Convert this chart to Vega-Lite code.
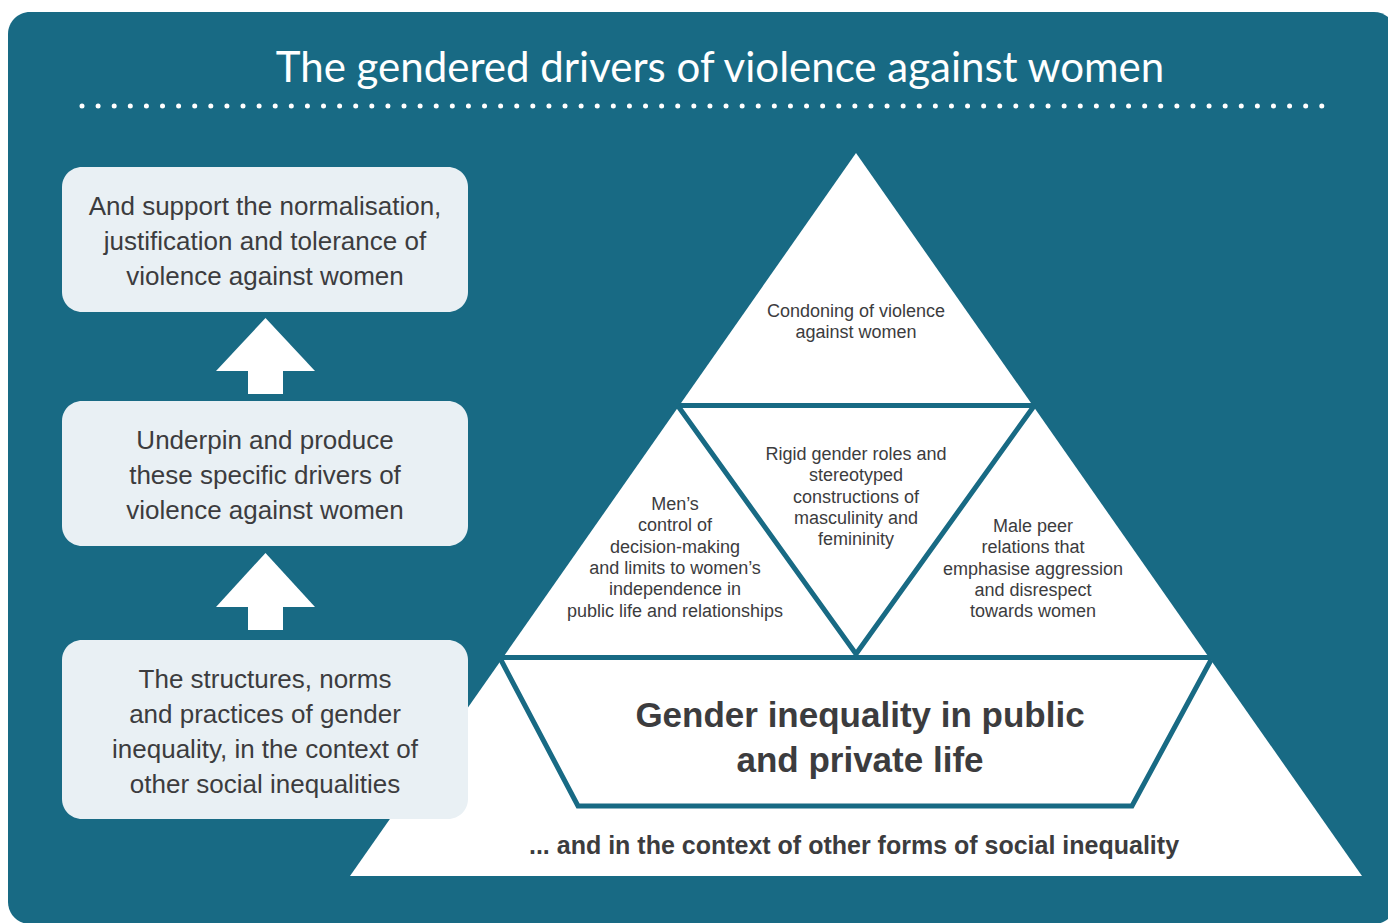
{
  "$schema": "https://vega.github.io/schema/vega-lite/v6.json",
  "width": 1388,
  "height": 923,
  "autosize": {"type": "fit", "contains": "padding"},
  "padding": 0,
  "background": "#ffffff",
  "config": {"view": {"stroke": null}},
  "datasets": {
    "panel": [{"x": 8, "x2": 1396, "y": 12, "y2": 924}],
    "divider": [{"x": 82, "x2": 1327, "y": 106}],
    "title": [{"x": 720, "y": 69, "label": "The gendered drivers of violence against women"}],
    "boxes": [
      {"x": 62, "x2": 468, "y": 167, "y2": 312},
      {"x": 62, "x2": 468, "y": 401, "y2": 546},
      {"x": 62, "x2": 468, "y": 640, "y2": 819}
    ],
    "boxText": [
      {"x": 265, "y": 207, "label": "And support the normalisation,\njustification and tolerance of\nviolence against women"},
      {"x": 265, "y": 441, "label": "Underpin and produce\nthese specific drivers of\nviolence against women"},
      {"x": 265, "y": 680, "label": "The structures, norms\nand practices of gender\ninequality, in the context of\nother social inequalities"}
    ],
    "stems": [
      {"x": 248, "x2": 283, "y": 370, "y2": 394},
      {"x": 248, "x2": 283, "y": 606, "y2": 630}
    ],
    "shapes": [
      {"shape": "pyramid", "x": 350, "y": 876, "y2": 876},
      {"shape": "pyramid", "x": 856, "y": 153, "y2": 876},
      {"shape": "pyramid", "x": 1362, "y": 876, "y2": 876},
      {"shape": "arrow1", "x": 216, "y": 371, "y2": 371},
      {"shape": "arrow1", "x": 265.5, "y": 318, "y2": 371},
      {"shape": "arrow1", "x": 315, "y": 371, "y2": 371},
      {"shape": "arrow2", "x": 216, "y": 607, "y2": 607},
      {"shape": "arrow2", "x": 265.5, "y": 553, "y2": 607},
      {"shape": "arrow2", "x": 315, "y": 607, "y2": 607}
    ],
    "lines": [
      {"seg": "h1", "o": 1, "x": 674, "y": 405.5},
      {"seg": "h1", "o": 2, "x": 1038, "y": 405.5},
      {"seg": "v", "o": 1, "x": 678, "y": 406},
      {"seg": "v", "o": 2, "x": 856, "y": 654},
      {"seg": "v", "o": 3, "x": 1034, "y": 406},
      {"seg": "h2", "o": 1, "x": 495, "y": 657.5},
      {"seg": "h2", "o": 2, "x": 1217, "y": 657.5},
      {"seg": "trap", "o": 1, "x": 501, "y": 660},
      {"seg": "trap", "o": 2, "x": 578, "y": 806},
      {"seg": "trap", "o": 3, "x": 1132, "y": 806},
      {"seg": "trap", "o": 4, "x": 1211, "y": 660}
    ],
    "triText": [
      {"x": 856, "y": 312, "label": "Condoning of violence\nagainst women"},
      {"x": 856, "y": 455, "label": "Rigid gender roles and\nstereotyped\nconstructions of\nmasculinity and\nfemininity"},
      {"x": 675, "y": 505, "label": "Men’s\ncontrol of\ndecision-making\nand limits to women’s\nindependence in\npublic life and relationships"},
      {"x": 1033, "y": 527, "label": "Male peer\nrelations that\nemphasise aggression\nand disrespect\ntowards women"}
    ],
    "bigText": [{"x": 860, "y": 716, "label": "Gender inequality in public\nand private life"}],
    "footText": [{"x": 854, "y": 846, "label": "... and in the context of other forms of social inequality"}]
  },
  "layer": [
    {
      "data": {"name": "panel"},
      "mark": {"type": "rect", "color": "#186a84", "cornerRadius": 22, "clip": true},
      "encoding": {
        "x": {"field": "x", "type": "quantitative", "scale": {"domain": [0, 1388], "nice": false, "zero": false}, "axis": null},
        "x2": {"field": "x2"},
        "y": {"field": "y", "type": "quantitative", "scale": {"domain": [0, 923], "reverse": true, "nice": false, "zero": false}, "axis": null},
        "y2": {"field": "y2"}
      }
    },
    {
      "data": {"name": "divider"},
      "mark": {"type": "rule", "color": "#ffffff", "strokeWidth": 5, "strokeCap": "round", "strokeDash": [0.001, 16.1]},
      "encoding": {
        "x": {"field": "x", "type": "quantitative"},
        "x2": {"field": "x2"},
        "y": {"field": "y", "type": "quantitative"}
      }
    },
    {
      "data": {"name": "title"},
      "mark": {"type": "text", "font": "Lato", "fontSize": 42, "fontWeight": 400, "color": "#ffffff", "align": "center", "baseline": "middle"},
      "encoding": {
        "x": {"field": "x", "type": "quantitative"},
        "y": {"field": "y", "type": "quantitative"},
        "text": {"field": "label"}
      }
    },
    {
      "data": {"name": "shapes"},
      "mark": {"type": "area", "color": "#ffffff", "interpolate": "linear"},
      "encoding": {
        "x": {"field": "x", "type": "quantitative"},
        "y": {"field": "y", "type": "quantitative"},
        "y2": {"field": "y2"},
        "detail": {"field": "shape", "type": "nominal"}
      }
    },
    {
      "data": {"name": "stems"},
      "mark": {"type": "rect", "color": "#ffffff"},
      "encoding": {
        "x": {"field": "x", "type": "quantitative"},
        "x2": {"field": "x2"},
        "y": {"field": "y", "type": "quantitative"},
        "y2": {"field": "y2"}
      }
    },
    {
      "data": {"name": "boxes"},
      "mark": {"type": "rect", "color": "#e9f0f4", "cornerRadius": 20},
      "encoding": {
        "x": {"field": "x", "type": "quantitative"},
        "x2": {"field": "x2"},
        "y": {"field": "y", "type": "quantitative"},
        "y2": {"field": "y2"}
      }
    },
    {
      "data": {"name": "boxText"},
      "mark": {"type": "text", "font": "Liberation Sans", "fontSize": 26, "lineHeight": 35, "lineBreak": "\n", "color": "#3c3c3e", "align": "center", "baseline": "middle"},
      "encoding": {
        "x": {"field": "x", "type": "quantitative"},
        "y": {"field": "y", "type": "quantitative"},
        "text": {"field": "label"}
      }
    },
    {
      "data": {"name": "lines"},
      "mark": {"type": "line", "color": "#186a84", "strokeWidth": 5, "strokeJoin": "miter", "strokeCap": "butt"},
      "encoding": {
        "x": {"field": "x", "type": "quantitative"},
        "y": {"field": "y", "type": "quantitative"},
        "detail": {"field": "seg", "type": "nominal"},
        "order": {"field": "o", "type": "quantitative"}
      }
    },
    {
      "data": {"name": "triText"},
      "mark": {"type": "text", "font": "Liberation Sans", "fontSize": 18, "lineHeight": 21.3, "lineBreak": "\n", "color": "#3c3c3e", "align": "center", "baseline": "middle"},
      "encoding": {
        "x": {"field": "x", "type": "quantitative"},
        "y": {"field": "y", "type": "quantitative"},
        "text": {"field": "label"}
      }
    },
    {
      "data": {"name": "bigText"},
      "mark": {"type": "text", "font": "Liberation Sans", "fontSize": 35, "fontWeight": "bold", "lineHeight": 45, "lineBreak": "\n", "color": "#3c3c3e", "align": "center", "baseline": "middle"},
      "encoding": {
        "x": {"field": "x", "type": "quantitative"},
        "y": {"field": "y", "type": "quantitative"},
        "text": {"field": "label"}
      }
    },
    {
      "data": {"name": "footText"},
      "mark": {"type": "text", "font": "Liberation Sans", "fontSize": 25, "fontWeight": "bold", "color": "#3c3c3e", "align": "center", "baseline": "middle"},
      "encoding": {
        "x": {"field": "x", "type": "quantitative"},
        "y": {"field": "y", "type": "quantitative"},
        "text": {"field": "label"}
      }
    }
  ]
}
